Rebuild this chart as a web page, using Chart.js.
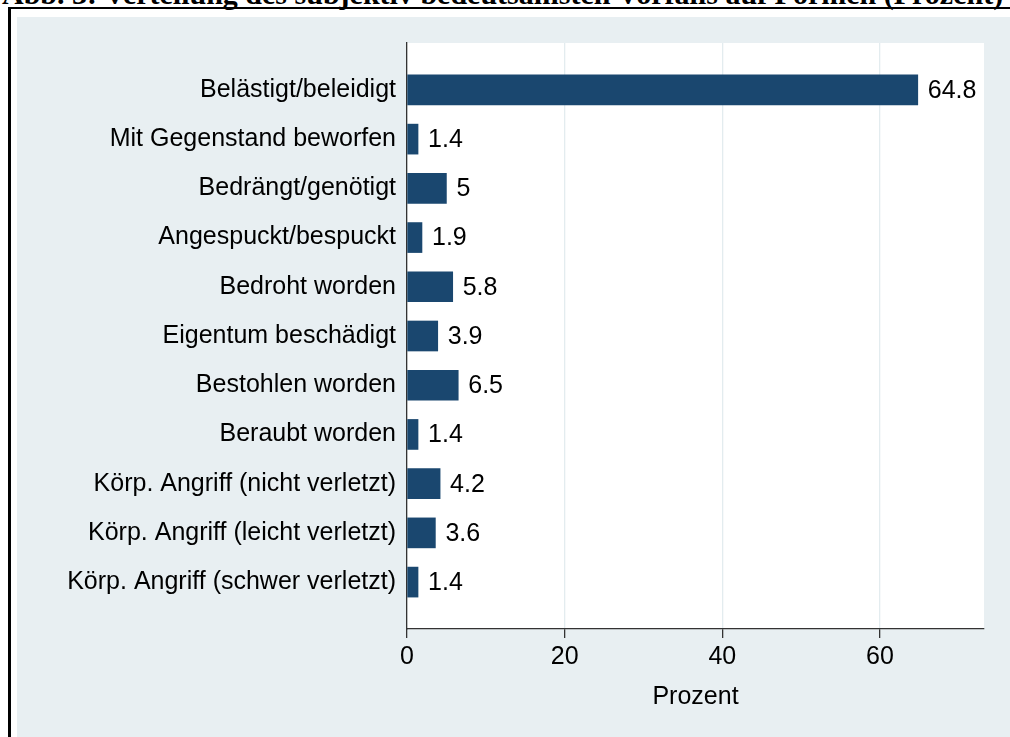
<!DOCTYPE html>
<html>
<head>
<meta charset="utf-8">
<script src="https://cdn.jsdelivr.net/npm/chart.js@4/dist/chart.umd.min.js"></script>
<style>
  html, body { margin: 0; padding: 0; background: #fff; overflow: hidden; }
  #title {
    position: absolute; left: 2px; top: -21px; white-space: nowrap;
    font: bold 30px "Liberation Serif", "Times New Roman", serif; line-height: 30px; color: #000;
  }
  #frame {
    position: absolute; left: 8px; top: 7px; width: 1100px; height: 800px;
    border-left: 3px solid #000; border-top: 2px solid #000;
  }
  #box {
    position: absolute; left: 17px; top: 17px; width: 993px; height: 720px;
    background: #e8eff2;
  }
</style>
</head>
<body>
<div id="title">Abb. 3: Verteilung des subjektiv bedeutsamsten Vorfalls auf Formen (Prozent)</div>
<div id="frame"></div>
<div id="box"><canvas id="barChart"></canvas></div>
<script>
const categories = [
  "Belästigt/beleidigt",
  "Mit Gegenstand beworfen",
  "Bedrängt/genötigt",
  "Angespuckt/bespuckt",
  "Bedroht worden",
  "Eigentum beschädigt",
  "Bestohlen worden",
  "Beraubt worden",
  "Körp. Angriff (nicht verletzt)",
  "Körp. Angriff (leicht verletzt)",
  "Körp. Angriff (schwer verletzt)"
];
const percentages = [64.8, 1.4, 5, 1.9, 5.8, 3.9, 6.5, 1.4, 4.2, 3.6, 1.4];
const xTicks = [0, 20, 40, 60];
const xMax = 73.2;

const labelFont = { family: "'Liberation Sans', Arial, sans-serif", size: 25 };

// white plot region behind the bars
const plotBackground = {
  id: "plotBackground",
  beforeDraw(chart) {
    const { ctx, chartArea } = chart;
    ctx.save();
    ctx.fillStyle = "#ffffff";
    ctx.fillRect(chartArea.left, chartArea.top, chartArea.right - chartArea.left, chartArea.bottom - chartArea.top);
    ctx.restore();
  }
};

// value label at the end of each bar
const barValues = {
  id: "barValues",
  afterDatasetsDraw(chart) {
    const ctx = chart.ctx;
    const meta = chart.getDatasetMeta(0);
    ctx.save();
    ctx.fillStyle = "#000";
    ctx.font = labelFont.size + "px " + labelFont.family;
    ctx.textAlign = "left";
    ctx.textBaseline = "middle";
    meta.data.forEach((bar, i) => {
      ctx.fillText(String(percentages[i]), bar.x + 10, bar.y + 1);
    });
    ctx.restore();
  }
};

new Chart(document.getElementById("barChart").getContext("2d"), {
  type: "bar",
  data: {
    datasets: [
      {
        data: percentages.map((v, i) => ({ x: v, y: i })),
        backgroundColor: "#1a476f",
        borderWidth: 0,
        barThickness: 30
      }
    ]
  },
  options: {
    indexAxis: "y",
    responsive: true,
    maintainAspectRatio: false,
    animation: false,
    layout: { padding: { top: 25, right: 26, left: 0, bottom: 0 } },
    plugins: { legend: { display: false }, tooltip: { enabled: false } },
    scales: {
      x: {
        type: "linear",
        min: 0,
        max: xMax,
        afterBuildTicks: (scale) => { scale.ticks = xTicks.map((v) => ({ value: v })); },
        afterFit: (scale) => { scale.height = 108; },
        grid: { color: "#e3ecef", lineWidth: 1.3, tickColor: "#333", tickLength: 9, tickWidth: 1.3 },
        border: { color: "#333", width: 1.3 },
        ticks: { color: "#000", font: labelFont, padding: 4 },
        title: { display: true, text: "Prozent", color: "#000", font: labelFont, padding: { top: 0, bottom: 25 } }
      },
      y: {
        type: "linear",
        reverse: true,
        offset: false,
        min: -0.953,
        max: categories.length - 1 + 0.953,
        afterBuildTicks: (scale) => { scale.ticks = categories.map((c, i) => ({ value: i })); },
        afterFit: (scale) => { scale.width = 390; },
        grid: { display: false, drawTicks: false, tickLength: 0 },
        border: { color: "#333", width: 1.3 },
        ticks: { color: "#000", font: labelFont, padding: 11, callback: (v) => categories[v] }
      }
    }
  },
  plugins: [plotBackground, barValues]
});
</script>
</body>
</html>
